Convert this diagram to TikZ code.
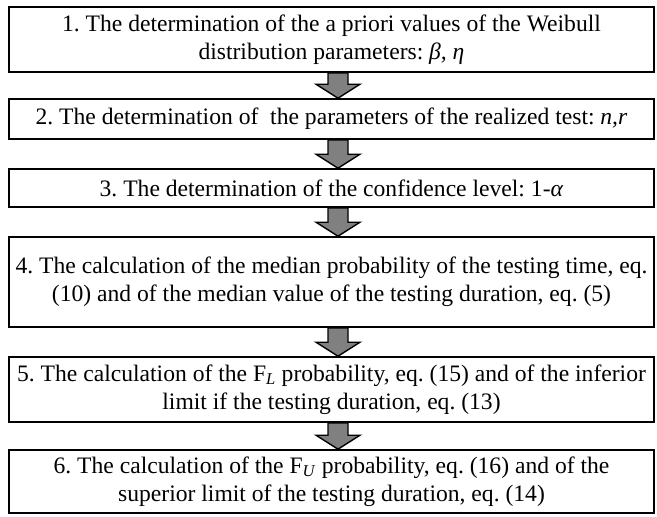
\documentclass[tikz,border=0pt]{standalone}
\usepackage{fontspec}
\setmainfont{Liberation Serif}
\usetikzlibrary{calc}

\tikzset{
  stepbox/.style={draw, line width=1.6pt, minimum width=645pt, inner sep=0pt,
    align=center, font=\fontsize{23.6}{28}\selectfont\frenchspacing},
  flowarrow/.style={draw, line width=1.4pt, fill=black!50, line join=miter}
}
% Blockpfeil von einem Kasten zum naechsten:
\newcommand\flowarrow[2]{%
  \draw[flowarrow] ($(#1.south)+(-3.5,0)$) -- ($(#1.south)+(16.5,0)$)
    -- ($(#2.north)+(16.5,14)$) -- ($(#2.north)+(28.5,14)$)
    -- ($(#2.north)+(6.5,0)$) -- ($(#2.north)+(-15.5,14)$)
    -- ($(#2.north)+(-3.5,14)$) -- cycle;}

\begin{document}
\begin{tikzpicture}[x=1pt, y=1pt]
\useasboundingbox (0,0) rectangle (657,-517);
% Die sechs Schritte:
\node[stepbox, minimum height=65pt] (s1) at (331.5,-39.5)
  {1. The determination of the a priori values of the Weibull\\
   distribution parameters: \textit{β, η}};
\node[stepbox, minimum height=40pt] (s2) at (331.5,-119)
  {2. The determination of\ \ the parameters of the realized test: \textit{n,r}};
\node[stepbox, minimum height=38pt] (s3) at (331.5,-188)
  {3. The determination of the confidence level: 1-\textit{α}};
\node[stepbox, minimum height=90pt] (s4) at (331.5,-282)
  {4. The calculation of the median probability of the testing time, eq.\\
   (10) and of the median value of the testing duration, eq. (5)};
\node[stepbox, minimum height=65pt] (s5) at (331.5,-389.5)
  {5. The calculation of the F\textsubscript{\textit{L}} probability, eq. (15) and of the inferior\\
   limit if the testing duration, eq. (13)};
\node[stepbox, minimum height=63pt] (s6) at (331.5,-481.5)
  {6. The calculation of the F\textsubscript{\textit{U}} probability, eq. (16) and of the\\
   superior limit of the testing duration, eq. (14)};
% Pfeile dazwischen:
\flowarrow{s1}{s2}
\flowarrow{s2}{s3}
\flowarrow{s3}{s4}
\flowarrow{s4}{s5}
\flowarrow{s5}{s6}
\end{tikzpicture}
\end{document}
